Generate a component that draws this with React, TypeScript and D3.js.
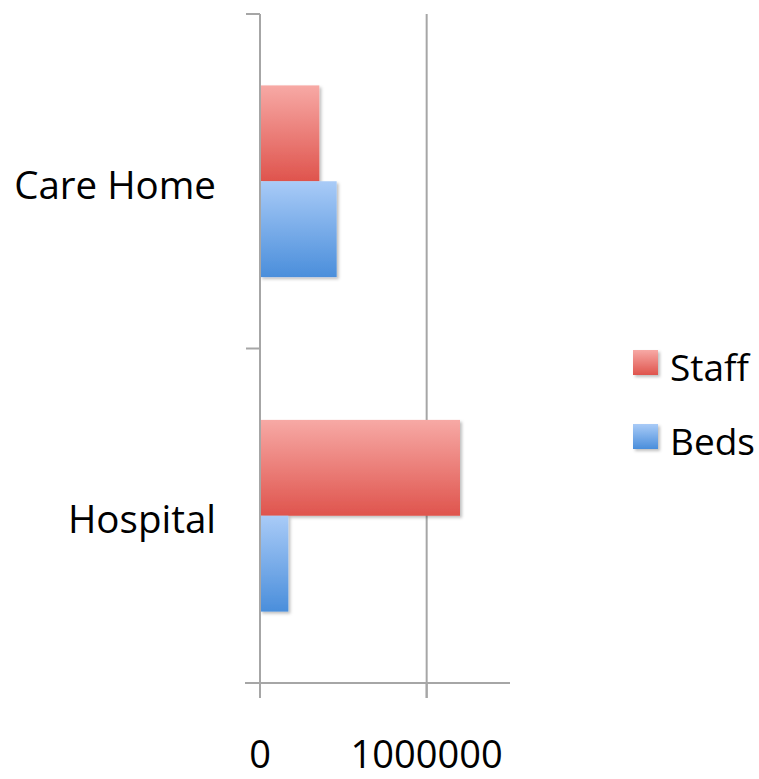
import React from "react";
import * as d3 from "d3";

const categories = ["Care Home", "Hospital"];
const seriesNames = ["Staff", "Beds"];
const staffValues = [356000, 1200000];
const bedsValues = [460000, 170000];
const xTicks = [0, 1000000];
const xMax = 1500000;

const W = 759;
const H = 779;
const FONT = "'Open Sans', 'Noto Sans', sans-serif";
const AXIS = "#a6a6a6";

const gradients: Record<string, [string, string]> = {
  Staff: ["#f7a9a5", "#df544d"],
  Beds: ["#a9cbf7", "#4a8edb"],
};

export default function App() {
  const x = d3.scaleLinear().domain([0, xMax]).range([260, 510]);
  const y = d3.scaleBand<string>().domain(categories).range([14, 683]).padding(0);
  const inner = d3
    .scaleBand<string>()
    .domain(seriesNames)
    .range([0, y.bandwidth()])
    .paddingInner(0)
    .paddingOuter(0.745);

  const rows = categories.map((c, i) => ({
    cat: c,
    values: [
      { s: "Staff", v: staffValues[i] },
      { s: "Beds", v: bedsValues[i] },
    ],
  }));

  const y0 = y.range()[0];
  const y1 = y.range()[1];
  const bandEdges = [y0, ...categories.map((c) => (y(c) as number) + y.bandwidth())];

  return (
    <svg width={W} height={H} style={{ position: "absolute", left: 0, top: 0, background: "#fff" }}>
      <defs>
        {seriesNames.map((s) => (
          <linearGradient key={s} id={`grad-${s}`} x1="0" y1="0" x2="0" y2="1">
            <stop offset="0%" stopColor={gradients[s][0]} />
            <stop offset="100%" stopColor={gradients[s][1]} />
          </linearGradient>
        ))}
        <filter id="shadow" x="-10%" y="-10%" width="130%" height="130%">
          <feDropShadow dx="2" dy="2" stdDeviation="1.5" floodColor="#000" floodOpacity="0.25" />
        </filter>
      </defs>

      {/* gridlines */}
      {xTicks
        .filter((t) => t !== 0)
        .map((t) => (
          <line key={`g${t}`} x1={x(t)} x2={x(t)} y1={y0} y2={y1 + 15} stroke={AXIS} strokeWidth={2} />
        ))}

      {/* bars */}
      {rows.map((r) =>
        r.values.map((d) => (
          <rect
            key={r.cat + d.s}
            x={x(0)}
            y={(y(r.cat) as number) + (inner(d.s) as number)}
            width={x(d.v) - x(0)}
            height={inner.bandwidth()}
            fill={`url(#grad-${d.s})`}
            filter="url(#shadow)"
          />
        ))
      )}

      {/* value axis */}
      <line x1={245} x2={x(xMax)} y1={y1} y2={y1} stroke={AXIS} strokeWidth={2} />
      {xTicks.map((t) => (
        <g key={`t${t}`}>
          <line x1={x(t)} x2={x(t)} y1={y1} y2={y1 + 15} stroke={AXIS} strokeWidth={2} />
          <text x={x(t)} y={768} textAnchor="middle" fontFamily={FONT} fontSize={38} fill="#000">
            {t}
          </text>
        </g>
      ))}

      {/* category axis */}
      <line x1={x(0)} x2={x(0)} y1={y0} y2={y1} stroke={AXIS} strokeWidth={2} />
      {bandEdges.map((e, i) => (
        <line key={`c${i}`} x1={246} x2={x(0)} y1={e} y2={e} stroke={AXIS} strokeWidth={2} />
      ))}
      {categories.map((c) => (
        <text
          key={c}
          x={216}
          y={(y(c) as number) + y.bandwidth() / 2 + 17.5}
          textAnchor="end"
          fontFamily={FONT}
          fontSize={38.5}
          fill="#000"
        >
          {c}
        </text>
      ))}

      {/* legend */}
      {seriesNames.map((s, i) => (
        <g key={s} transform={`translate(633, ${350 + i * 74})`}>
          <rect x={0} y={0} width={25} height={25} fill={`url(#grad-${s})`} filter="url(#shadow)" />
          <text x={37} y={31} fontFamily={FONT} fontSize={37} fill="#000">
            {s}
          </text>
        </g>
      ))}
    </svg>
  );
}
